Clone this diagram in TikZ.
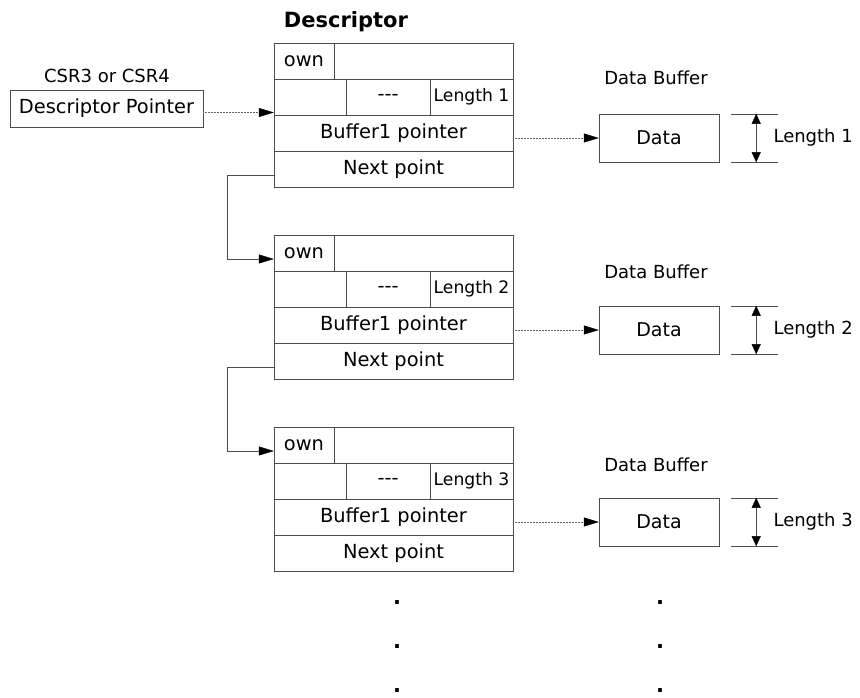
\documentclass[tikz,border=0pt]{standalone}
\usepackage{fontspec}
\setmainfont{DejaVu Sans}
\usetikzlibrary{arrows.meta,positioning}
\tikzset{
  cell/.style={ draw=black!70, inner sep=0pt, minimum height=36pt, font=\fontsize{19.4}{22}\selectfont }
}
\tikzset{
  datbox/.style={ draw=black!70, inner sep=0pt, minimum width=120pt, minimum height=48pt, font=\fontsize{19}{22}\selectfont }
}
\tikzset{
  ptr/.style={ black!60, dash pattern=on 1pt off 0.5pt, -{Triangle[length=15pt, width=9pt, black]} }
}
\tikzset{
  link/.style={ black!70, -{Triangle[length=15pt, width=9pt, black]} }
}
\tikzset{
  lenarr/.style={ black!70, {Triangle[length=10pt, width=9pt, black]}-{Triangle[length=10pt, width=9pt, black]} }
}
\tikzset{
  small/.style={ font=\fontsize{17.2}{20}\selectfont }
}
\tikzset{
  dot/.style={ anchor=base, font=\bfseries\fontsize{21}{24}\selectfont }
}

\begin{document}
\begin{tikzpicture}[x=1pt, y=-1pt, font=\fontsize{18}{22}\selectfont]
      \useasboundingbox (0,0) rectangle (860,698);

      \node[font=\bfseries\fontsize{21}{24}\selectfont] (title) at (346, 22) {Descriptor};
      \node (csr) at (107, 76) {CSR3 or CSR4};
      \node[cell, minimum width=193pt, minimum height=37pt] (dptr) at (106.5, 108.5) {Descriptor Pointer};

      % descriptor 1
      \node[cell, minimum width=60pt] (d1own) at (304, 61) {own};
      \node[cell, minimum width=179pt] (d1top) at (423.5, 61) {};
      \node[cell, minimum width=72pt] (d1a) at (310, 97) {};
      \node[cell, minimum width=84pt] (d1b) at (388, 97) {-{}-{}-};
      \node[cell, small, minimum width=83pt] (d1len) at (471.5, 97) {Length 1};
      \node[cell, minimum width=239pt] (d1buf) at (393.5, 133) {Buffer1 pointer};
      \node[cell, minimum width=239pt] (d1next) at (393.5, 169) {Next point};

      % descriptor 2
      \node[cell, minimum width=60pt] (d2own) at (304, 253) {own};
      \node[cell, minimum width=179pt] (d2top) at (423.5, 253) {};
      \node[cell, minimum width=72pt] (d2a) at (310, 289) {};
      \node[cell, minimum width=84pt] (d2b) at (388, 289) {-{}-{}-};
      \node[cell, small, minimum width=83pt] (d2len) at (471.5, 289) {Length 2};
      \node[cell, minimum width=239pt] (d2buf) at (393.5, 325) {Buffer1 pointer};
      \node[cell, minimum width=239pt] (d2next) at (393.5, 361) {Next point};

      % descriptor 3
      \node[cell, minimum width=60pt] (d3own) at (304, 445) {own};
      \node[cell, minimum width=179pt] (d3top) at (423.5, 445) {};
      \node[cell, minimum width=72pt] (d3a) at (310, 481) {};
      \node[cell, minimum width=84pt] (d3b) at (388, 481) {-{}-{}-};
      \node[cell, small, minimum width=83pt] (d3len) at (471.5, 481) {Length 3};
      \node[cell, minimum width=239pt] (d3buf) at (393.5, 517) {Buffer1 pointer};
      \node[cell, minimum width=239pt] (d3next) at (393.5, 553) {Next point};

      % data buffers
      \node (db1) at (656, 78) {Data Buffer};
      \node[datbox] (data1) at (659, 138) {Data};
      \node (db2) at (656, 272) {Data Buffer};
      \node[datbox] (data2) at (659, 330) {Data};
      \node (db3) at (656, 465) {Data Buffer};
      \node[datbox] (data3) at (659, 522) {Data};

      \node[anchor=west] (lab1) at (770, 138) {Length 1};
      \node[anchor=west] (lab2) at (770, 330) {Length 2};
      \node[anchor=west] (lab3) at (770, 522) {Length 3};

      \draw[ptr] ([yshift=-4pt]dptr.east) -- ([yshift=-4pt]dptr.east -| d1a.west);
      \draw[link] ([yshift=-6pt]d1next.west) -- ++(-47,0) |- ([yshift=-6pt]d2own.west);
      \draw[link] ([yshift=-6pt]d2next.west) -- ++(-47,0) |- ([yshift=-6pt]d3own.west);

      \draw[ptr] (data1.west -| d1buf.east) -- (data1.west);
      \draw[ptr] (data2.west -| d2buf.east) -- (data2.west);
      \draw[ptr] (data3.west -| d3buf.east) -- (data3.west);

      % length markers
      \draw[black!70] ([xshift=12pt]data1.north east) -- ++(47,0);
      \draw[black!70] ([xshift=12pt]data1.south east) -- ++(47,0);
      \draw[lenarr] ([xshift=37pt]data1.north east) -- ([xshift=37pt]data1.south east);
      \draw[black!70] ([xshift=12pt]data2.north east) -- ++(47,0);
      \draw[black!70] ([xshift=12pt]data2.south east) -- ++(47,0);
      \draw[lenarr] ([xshift=37pt]data2.north east) -- ([xshift=37pt]data2.south east);
      \draw[black!70] ([xshift=12pt]data3.north east) -- ++(47,0);
      \draw[black!70] ([xshift=12pt]data3.south east) -- ++(47,0);
      \draw[lenarr] ([xshift=37pt]data3.north east) -- ([xshift=37pt]data3.south east);

      % more descriptors follow
      \node[dot] (dotl1) at (397, 604) {.};
      \node[dot] (dotl2) at (397, 648.5) {.};
      \node[dot] (dotl3) at (397, 692.5) {.};
      \node[dot] (dotr1) at (660, 604) {.};
      \node[dot] (dotr2) at (660, 648.5) {.};
      \node[dot] (dotr3) at (660, 692.5) {.};
    \end{tikzpicture}
\end{document}
